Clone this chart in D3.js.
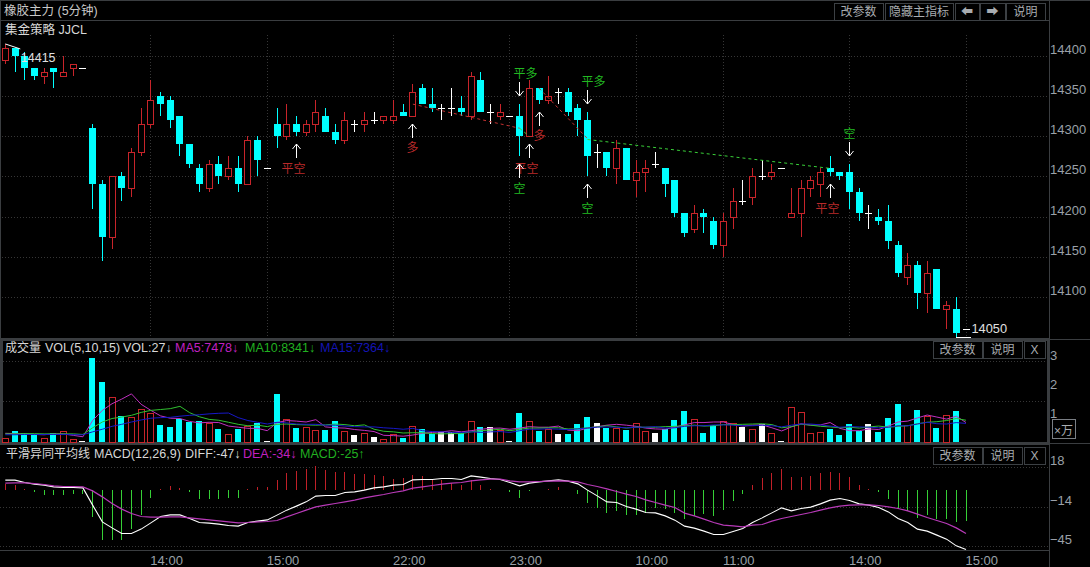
<!DOCTYPE html>
<html>
<head>
<meta charset="utf-8">
<script src="https://cdn.jsdelivr.net/npm/d3@7"></script>
<style>
  html, body { margin: 0; padding: 0; background: #000; overflow: hidden; }
  svg { display: block; }
  text { font-family: "Liberation Sans", "Noto Sans CJK SC", sans-serif; }
</style>
</head>
<body>
<svg id="chart" width="1090" height="567"></svg>
<script>
"use strict";

// candles, one per 5 minutes
let opens = [14395,14410,14400,14385,14375,14385,14375,14385,14385,14310,14240,14175,14250,14235,14280,14315,14350,14345,14325,14290,14260,14235,14265,14250,14260,14240,14295,14260,14315,14300,14315,14305,14315,14325,14305,14295,14315,14315,14320,14320,14320,14330,14325,14360,14340,14335,14335,14335,14325,14370,14330,14325,14325,14325,14300,14360,14345,14355,14355,14335,14320,14280,14280,14260,14285,14245,14255,14265,14260,14245,14205,14185,14205,14195,14165,14200,14220,14225,14250,14250,14260,14200,14205,14235,14240,14260,14255,14255,14230,14205,14200,14195,14165,14125,14140,14105,14135,14085,14085,14060];
let closes = [14410,14400,14385,14375,14380,14380,14380,14390,14385,14240,14175,14250,14235,14280,14315,14345,14340,14320,14290,14265,14240,14265,14250,14260,14240,14295,14270,14260,14300,14315,14305,14315,14330,14305,14295,14320,14315,14320,14320,14325,14325,14325,14355,14340,14335,14335,14335,14330,14375,14330,14330,14330,14325,14300,14360,14345,14350,14355,14330,14320,14275,14280,14260,14285,14245,14255,14260,14265,14240,14205,14180,14205,14200,14165,14195,14220,14220,14250,14250,14255,14260,14205,14235,14245,14255,14255,14250,14230,14205,14205,14195,14170,14130,14140,14105,14130,14085,14090,14055,14060];
let highs = [14415,14410,14405,14385,14385,14385,14400,14390,14385,14315,14245,14250,14255,14285,14335,14370,14355,14350,14325,14290,14265,14270,14275,14275,14275,14300,14300,14260,14335,14340,14325,14320,14345,14335,14315,14330,14320,14330,14330,14325,14345,14340,14365,14365,14360,14340,14360,14350,14380,14380,14340,14340,14325,14340,14370,14360,14375,14360,14360,14340,14330,14290,14280,14295,14285,14270,14270,14280,14260,14245,14205,14215,14210,14200,14205,14235,14245,14260,14270,14265,14260,14235,14245,14250,14260,14275,14255,14265,14235,14215,14210,14215,14170,14155,14145,14145,14135,14095,14100,14060];
let lows = [14390,14380,14370,14370,14365,14360,14375,14375,14385,14210,14145,14160,14220,14225,14275,14310,14325,14310,14275,14260,14230,14230,14240,14245,14230,14240,14250,14260,14285,14295,14300,14300,14305,14305,14290,14290,14305,14305,14315,14315,14315,14325,14325,14340,14330,14320,14325,14325,14320,14330,14315,14320,14325,14275,14300,14340,14340,14340,14325,14300,14250,14260,14250,14240,14245,14225,14230,14260,14225,14200,14175,14180,14180,14160,14150,14185,14215,14215,14245,14245,14260,14200,14175,14225,14225,14250,14245,14210,14195,14185,14190,14160,14125,14115,14085,14080,14085,14060,14050,14060];

// volume in units of 10000 lots
let volumes = [.15,.37,.32,.26,.15,.30,.37,.09,.03,2.90,2.07,1.54,.89,.86,1.15,1.01,.57,.51,.80,.69,.71,.67,.44,.26,.44,.54,.67,.03,1.64,.80,.47,.51,.40,.40,.71,.37,.23,.30,.16,.11,.26,.13,.54,.44,.29,.33,.33,.31,.71,.51,.51,.40,.03,.99,.71,.37,.44,.26,.26,.61,.85,.64,.48,.48,.40,.67,.37,.31,.44,.75,1.06,.78,.30,.57,.71,.64,.51,.44,.61,.30,.03,1.20,1.02,.32,.33,.44,.23,.61,.37,.61,.33,.82,1.30,.57,1.09,.89,.47,.92,1.06,.0027];
let ma5 = [.30,.29,.28,.26,.25,.28,.28,.23,.18,.74,1.09,1.32,1.48,1.66,1.30,1.09,.90,.82,.81,.71,.66,.68,.67,.55,.51,.47,.47,.39,.67,.74,.72,.69,.77,.52,.49,.48,.43,.40,.36,.23,.22,.20,.24,.30,.33,.35,.39,.35,.39,.44,.47,.48,.44,.48,.53,.51,.51,.55,.41,.39,.48,.53,.58,.61,.58,.54,.48,.45,.44,.51,.59,.67,.67,.69,.69,.60,.55,.58,.59,.49,.38,.52,.63,.58,.59,.67,.47,.39,.39,.45,.43,.55,.69,.72,.83,.93,.86,.79,.89,.67];
let ma10 = [.28,.28,.29,.29,.28,.28,.28,.28,.26,.49,.69,.81,.86,.92,1.02,1.09,1.12,1.15,1.23,1.01,.87,.78,.75,.68,.61,.56,.58,.53,.61,.62,.60,.59,.58,.59,.62,.60,.56,.59,.44,.37,.35,.31,.32,.32,.29,.28,.29,.29,.35,.39,.41,.44,.39,.44,.48,.48,.49,.49,.45,.46,.49,.52,.56,.52,.48,.51,.51,.51,.53,.54,.56,.58,.55,.56,.60,.60,.61,.62,.63,.60,.49,.53,.61,.58,.54,.52,.49,.51,.48,.52,.55,.51,.54,.56,.63,.68,.70,.74,.81,.75];
let ma15 = [.25,.25,.26,.26,.26,.26,.26,.25,.25,.35,.44,.54,.61,.69,.76,.82,.84,.85,.89,.92,.94,.97,.99,1.00,.84,.74,.68,.62,.68,.66,.62,.61,.61,.58,.58,.55,.53,.52,.52,.49,.47,.44,.47,.39,.36,.35,.33,.33,.35,.33,.35,.36,.33,.39,.44,.44,.46,.44,.43,.45,.48,.51,.52,.51,.49,.51,.51,.53,.48,.49,.54,.56,.56,.59,.59,.58,.56,.56,.58,.56,.52,.58,.62,.62,.59,.55,.51,.53,.52,.51,.49,.51,.56,.56,.62,.68,.63,.62,.67,.64];

// MACD
let macdHist = [4.8,3.5,.8,-2.1,-4,-4.5,-4.5,-3.5,-3.5,-22,-40.5,-40.5,-40.5,-31.5,-20,-6.7,.8,2.7,1.3,-1.9,-7.2,-7.2,-7.5,-6.4,-6.9,.5,2.1,2.1,7.5,13,14.7,16.8,19,16,13.9,13.9,12.8,12.3,11.5,11,8.8,9,11.5,10.7,8.8,7.5,5.6,3.5,7.5,3.5,.8,-.3,-2.1,-6.9,-1,-.5,.3,2.1,-.3,-3.7,-10.7,-14.7,-19,-17.3,-20.5,-20.5,-19,-14.7,-15.2,-19,-23.7,-21,-19.7,-21.3,-16.5,-9.3,-3.5,3.5,9,13,16.3,9.9,9.9,11,13,13.9,13,9.9,3.5,.5,-2.1,-7.5,-15.2,-17,-22.7,-20.5,-23.7,-23.7,-26,-25.3];
let diffLine = [7.5,7.5,5.6,4.3,3.5,2.1,1.6,1.6,1.3,-12.5,-25.9,-30.7,-35.2,-35.2,-31.7,-26.7,-21.6,-20.3,-20.3,-23.2,-26.4,-26.9,-27.7,-28.8,-29.3,-26.4,-25.3,-24.3,-20.5,-16.5,-13.3,-9.9,-5.3,-4.8,-4.8,-2.4,-1.9,-.5,1.3,2.1,3.5,4,7.7,8,8,8.8,8.8,8,10.9,9.9,8.8,8,5.6,2.9,5.1,6.1,6.9,7.7,6.7,4.5,-.5,-5.1,-9.9,-10.4,-13.6,-15.7,-18.4,-18.7,-21.1,-24.5,-29.3,-30.9,-33.3,-36,-36,-33.6,-31.2,-26.4,-22.7,-18.7,-14.7,-17.1,-15.2,-14.1,-11.5,-8.5,-7.2,-8.8,-11.5,-12.5,-14.4,-17.9,-23.2,-26.4,-31.7,-33.3,-36.5,-39.7,-45.1,-48];
let deaLine = [5.1,5.3,5.3,4.8,4,2.9,2.4,2.4,2.1,-1.1,-5.9,-11.2,-15.7,-19.2,-21.6,-22.1,-22.1,-21.9,-21.9,-22.7,-23.5,-24.3,-25.1,-25.9,-26.7,-26.4,-25.9,-25.6,-24.8,-21.9,-19.2,-16.5,-13.9,-12.5,-11.2,-9.9,-8.5,-6.7,-5.3,-4,-2.4,-1.1,1.1,2.1,3.2,4.3,5.1,5.6,6.9,7.7,8.3,8.3,6.9,6.1,6.1,6.4,6.7,6.9,6.7,6.1,4,2.4,.5,-1.6,-3.7,-5.6,-8.3,-10.4,-12.5,-14.4,-18.9,-21.1,-23.7,-26.4,-28.5,-29.1,-29.9,-28.5,-28,-25.3,-23.2,-21.6,-20,-18.4,-16.5,-14.7,-13.3,-12.5,-12.3,-12.3,-12.8,-13.9,-15.2,-17.1,-19.7,-22.4,-24.8,-27.2,-30.7,-35.2];

// axis ticks
let priceTicks = [14400, 14350, 14300, 14250, 14200, 14150, 14100];
let timeIndex = [15, 27, 40, 52, 65, 74, 87, 99];
let timeLabels = ["14:00", "15:00", "22:00", "23:00", "10:00", "11:00", "14:00", "15:00"];
let volTicks = [1, 2, 3];
let volGridValues = [1.40, 2.78];
let macdTicks = [18, -14, -45];

// trading signals
let signalIndex = [30, 42, 53, 54, 55, 60, 85, 53, 60, 87];
let signalDir = ["up", "up", "up", "up", "up", "up", "up", "down", "down", "down"];
let signalPrice = [14290, 14315, 14265, 14290, 14330, 14240, 14240, 14350, 14340, 14275];
let signalText = ["平空", "多", "空", "平空", "多", "空", "平空", "平多", "平多", "空"];

// signal connecting lines: from index, from price, to index, to price, long or short
let linkFrom = [42, 53, 55, 60];
let linkFromPrice = [14340, 14310, 14360, 14296];
let linkTo = [53, 54, 60, 85];
let linkToPrice = [14310, 14300, 14297, 14260];
let linkKind = ["red", "green", "red", "green"];

const CYAN = "#00ffff", RED = "#c8242a", WHITE = "#ffffff";
const SIG_RED = "#b82a2a", SIG_GREEN = "#22b822";
const AXIS_COLOR = "#9aa0a8", LINE_COLOR = "#3a3d40", GRID_COLOR = "#363636";

let svg = d3.select("#chart");
svg.append("rect").attr("width", 1090).attr("height", 567).attr("fill", "#000");

let n = opens.length;
let x = d3.scaleLinear().domain([0, 99]).range([5.3, 966]);
let px = function (i) { return Math.floor(x(i)); };
let priceY = d3.scaleLinear().domain([14050, 14400]).range([337, 56]);
let volY = d3.scaleLinear().domain([0, 3]).range([442, 355]);
let macdY = d3.scaleLinear().domain([-45, 18]).range([545.75, 467]);

let candleColor = function (i) {
    if (closes[i] > opens[i]) return RED;
    if (closes[i] < opens[i]) return CYAN;
    return WHITE;
};

// panel frame lines
let frame = svg.append("g").attr("shape-rendering", "crispEdges");
function hline(y, x0, x1, w) {
    frame.append("line").attr("x1", x0).attr("x2", x1).attr("y1", y).attr("y2", y)
        .attr("stroke", LINE_COLOR).attr("stroke-width", w || 1);
}
function vline(xp, y0, y1, w) {
    frame.append("line").attr("x1", xp).attr("x2", xp).attr("y1", y0).attr("y2", y1)
        .attr("stroke", LINE_COLOR).attr("stroke-width", w || 1);
}
hline(0.5, 0, 1090);
hline(20.5, 0, 1049);
hline(339.5, 0, 1049, 3);
hline(339, 1049, 1090);
hline(443.5, 0, 1049, 3);
hline(443, 1049, 1090);
hline(550.5, 0, 1049);
vline(1049.5, 0, 338);
vline(1048.5, 338, 445, 3);
vline(1049.5, 445, 567);
vline(1.5, 338, 445, 3);
vline(0.5, 0, 338);

// dotted grids
let grid = svg.append("g").attr("shape-rendering", "crispEdges")
    .attr("stroke", GRID_COLOR).attr("stroke-dasharray", "1,2");
grid.selectAll(".ph").data(priceTicks).enter().append("line")
    .attr("x1", 2).attr("x2", 1049)
    .attr("y1", function (d) { return Math.round(priceY(d)) + 0.5; })
    .attr("y2", function (d) { return Math.round(priceY(d)) + 0.5; });
grid.selectAll(".tv").data(timeIndex).enter().append("line")
    .attr("x1", function (d) { return px(d) + 0.5; })
    .attr("x2", function (d) { return px(d) + 0.5; })
    .attr("y1", 35).attr("y2", 338);
grid.selectAll(".vh").data(volGridValues).enter().append("line")
    .attr("x1", 3).attr("x2", 1047)
    .attr("y1", function (d) { return Math.round(volY(d)) + 0.5; })
    .attr("y2", function (d) { return Math.round(volY(d)) + 0.5; });
grid.selectAll(".mh").data(macdTicks).enter().append("line")
    .attr("x1", 0).attr("x2", 1049)
    .attr("y1", function (d) { return Math.round(macdY(d)) + 0.5; })
    .attr("y2", function (d) { return Math.round(macdY(d)) + 0.5; });

// axes
function styleAxis(g, dy) {
    g.select(".domain").remove();
    g.selectAll("line").remove();
    g.selectAll("text")
        .attr("y", dy)
        .attr("dy", "0.35em")
        .style("font-size", "13px")
        .style("font-family", "Liberation Sans, sans-serif")
        .attr("fill", AXIS_COLOR);
}
svg.append("g").attr("transform", "translate(1049,0)")
    .call(d3.axisRight(priceY).tickValues(priceTicks).tickSize(0).tickPadding(1).tickFormat(d3.format("d")))
    .call(styleAxis, -7);
svg.append("g").attr("transform", "translate(1049,0)")
    .call(d3.axisRight(volY).tickValues(volTicks).tickSize(0).tickPadding(1).tickFormat(d3.format("d")))
    .call(styleAxis, 0);
svg.append("g").attr("transform", "translate(1049,0)")
    .call(d3.axisRight(macdY).tickValues(macdTicks).tickSize(0).tickPadding(1).tickFormat(d3.format("d")))
    .call(styleAxis, -7);
svg.append("g").attr("transform", "translate(0,551)")
    .call(d3.axisBottom(x).tickValues(timeIndex).tickSize(0).tickFormat(function (d, i) { return timeLabels[i]; }))
    .call(function (g) {
        g.select(".domain").remove();
        g.selectAll("line").remove();
        g.selectAll("text")
            .attr("text-anchor", "start")
            .attr("x", -1)
            .attr("y", 9)
            .attr("dy", "0.35em")
            .style("font-size", "13px")
            .attr("fill", AXIS_COLOR);
    });

// candles
let indices = d3.range(n);
let candles = svg.append("g").attr("shape-rendering", "crispEdges");
candles.selectAll(".wick").data(indices).enter().append("line")
    .attr("x1", function (i) { return px(i) + 0.5; })
    .attr("x2", function (i) { return px(i) + 0.5; })
    .attr("y1", function (i) { return Math.round(priceY(highs[i])); })
    .attr("y2", function (i) { return Math.round(priceY(lows[i])); })
    .attr("stroke", candleColor);
candles.selectAll(".body").data(indices.filter(function (i) { return opens[i] !== closes[i]; }))
    .enter().append("rect")
    .attr("x", function (i) { return closes[i] > opens[i] ? px(i) - 2.5 : px(i) - 3; })
    .attr("width", function (i) { return closes[i] > opens[i] ? 6 : 7; })
    .attr("y", function (i) { return Math.round(priceY(Math.max(opens[i], closes[i]))) + (closes[i] > opens[i] ? 0.5 : 0); })
    .attr("height", function (i) {
        return Math.round(priceY(Math.min(opens[i], closes[i]))) - Math.round(priceY(Math.max(opens[i], closes[i])));
    })
    .attr("fill", function (i) { return closes[i] > opens[i] ? "#000" : CYAN; })
    .attr("stroke", function (i) { return closes[i] > opens[i] ? RED : "none"; });
candles.selectAll(".doji").data(indices.filter(function (i) { return opens[i] === closes[i]; }))
    .enter().append("line")
    .attr("x1", function (i) { return px(i) - 3; })
    .attr("x2", function (i) { return px(i) + 4; })
    .attr("y1", function (i) { return Math.round(priceY(closes[i])) + 0.5; })
    .attr("y2", function (i) { return Math.round(priceY(closes[i])) + 0.5; })
    .attr("stroke", WHITE);

// highest and lowest markers
let hiPrice = d3.max(highs), loPrice = d3.min(lows);
let hiIndex = highs.indexOf(hiPrice), loIndex = lows.indexOf(loPrice);
svg.append("line")
    .attr("x1", x(hiIndex)).attr("y1", priceY(hiPrice))
    .attr("x2", x(hiIndex) + 15).attr("y2", priceY(hiPrice) + 5)
    .attr("stroke", WHITE);
svg.append("text")
    .attr("x", x(hiIndex) + 15.5).attr("y", priceY(hiPrice) + 13.5).attr("dy", "0.35em")
    .attr("fill", "#e0e0e0").style("font-size", "12.5px")
    .text(hiPrice);
svg.append("line").attr("shape-rendering", "crispEdges")
    .attr("x1", px(loIndex)).attr("y1", Math.round(priceY(loPrice)) + 0.5)
    .attr("x2", px(loIndex) + 15).attr("y2", Math.round(priceY(loPrice)) + 0.5)
    .attr("stroke", WHITE);
svg.append("text")
    .attr("x", px(loIndex) + 15.5).attr("y", priceY(loPrice) - 8.5).attr("dy", "0.35em")
    .attr("fill", "#e0e0e0").style("font-size", "12.8px")
    .text(loPrice);

// signal connecting lines
let links = svg.append("g");
linkFrom.forEach(function (from, k) {
    links.append("line")
        .attr("x1", x(from)).attr("y1", priceY(linkFromPrice[k]))
        .attr("x2", x(linkTo[k])).attr("y2", priceY(linkToPrice[k]))
        .attr("stroke", linkKind[k] === "red" ? "#c43030" : "#39d039")
        .attr("stroke-dasharray", "3,3");
});

// signal labels, then arrows on top
let signals = d3.range(signalIndex.length);
let arrowLen = 14;
let labelShift = { "平空": -3, "平多": 6 };
let signalIsRed = function (k) {
    return signalDir[k] === "up" && signalText[k] !== "空";
};
svg.append("g").selectAll("text").data(signals).enter().append("text")
    .attr("x", function (k) { return px(signalIndex[k]) + 0.5 + (labelShift[signalText[k]] || 0); })
    .attr("y", function (k) {
        let tip = priceY(signalPrice[k]);
        return signalDir[k] === "up" ? tip + arrowLen + 10 : tip - arrowLen - 8.5;
    })
    .attr("dy", "0.35em")
    .attr("text-anchor", "middle")
    .attr("fill", function (k) { return signalIsRed(k) ? SIG_RED : SIG_GREEN; })
    .style("font-size", "12px")
    .text(function (k) { return signalText[k]; });
svg.append("g").selectAll("path").data(signals).enter().append("path")
    .attr("d", function (k) {
        let cx = px(signalIndex[k]) + 0.5;
        let tip = Math.round(priceY(signalPrice[k]));
        let dir = signalDir[k] === "up" ? 1 : -1;
        return "M" + cx + "," + tip + "V" + (tip + dir * arrowLen) +
            "M" + (cx - 4) + "," + (tip + dir * 5) + "L" + cx + "," + tip + "L" + (cx + 4) + "," + (tip + dir * 5);
    })
    .attr("fill", "none")
    .attr("stroke", WHITE);

// volume bars
let volBars = svg.append("g").attr("shape-rendering", "crispEdges");
volBars.selectAll("rect").data(indices).enter().append("rect")
    .attr("x", function (i) { return closes[i] > opens[i] ? px(i) - 2.5 : px(i) - 3; })
    .attr("width", 6)
    .attr("y", function (i) { return Math.round(volY(volumes[i])) + (closes[i] > opens[i] ? 0.5 : 0); })
    .attr("height", function (i) { return 442 - Math.round(volY(volumes[i])); })
    .attr("fill", function (i) { return closes[i] > opens[i] ? "#000" : candleColor(i); })
    .attr("stroke", function (i) { return closes[i] > opens[i] ? RED : "none"; });

// volume moving averages
let volLine = d3.line().x(function (d, i) { return x(i); }).y(function (d) { return volY(d); });
svg.append("path").datum(ma5).attr("d", volLine).attr("fill", "none").attr("stroke", "#c030c0");
svg.append("path").datum(ma10).attr("d", volLine).attr("fill", "none").attr("stroke", "#30c030");
svg.append("path").datum(ma15).attr("d", volLine).attr("fill", "none").attr("stroke", "#1818c8");

// MACD histogram and lines
let macdBars = svg.append("g").attr("shape-rendering", "crispEdges");
macdBars.selectAll("line").data(indices).enter().append("line")
    .attr("x1", function (i) { return px(i) + 0.5; })
    .attr("x2", function (i) { return px(i) + 0.5; })
    .attr("y1", macdY(0))
    .attr("y2", function (i) { return macdY(macdHist[i]); })
    .attr("stroke", function (i) { return macdHist[i] > 0 ? "#c02028" : "#36d036"; });
let macdLine = d3.line().x(function (d, i) { return x(i); }).y(function (d) { return macdY(d); });
svg.append("path").datum(diffLine).attr("d", macdLine).attr("fill", "none").attr("stroke", WHITE).attr("stroke-width", 1.1);
svg.append("path").datum(deaLine).attr("d", macdLine).attr("fill", "none").attr("stroke", "#b83ab8").attr("stroke-width", 1.2);

// header texts
function label(xp, yp, s, color, size) {
    svg.append("text")
        .attr("x", xp).attr("y", yp).attr("dy", "0.35em")
        .attr("fill", color).style("font-size", (size || 12.5) + "px")
        .text(s);
}
label(4, 11, "橡胶主力 (5分钟)", "#c8c8c8", 12.5);
label(5, 30, "集金策略 JJCL", "#d8d8d8", 12.5);
label(5, 348, "成交量", "#d8d8d8", 12);
label(45, 348, "VOL(5,10,15)", "#d8d8d8");
label(123, 348, "VOL:27↓", "#d8d8d8");
label(175, 348, "MA5:7478↓", "#c020c0");
label(245, 348, "MA10:8341↓", "#20b020");
label(320, 348, "MA15:7364↓", "#1414b4");
label(6, 454, "平滑异同平均线", "#d8d8d8", 12);
label(94, 454, "MACD(12,26,9)", "#d8d8d8");
label(185, 454, "DIFF:-47↓", "#d8d8d8");
label(243, 454, "DEA:-34↓", "#c020c0");
label(300, 454, "MACD:-25↑", "#20b020");

// buttons
function button(x0, x1, y0, y1, s, color, dy) {
    svg.append("rect").attr("shape-rendering", "crispEdges")
        .attr("x", x0 + 0.5).attr("y", y0 + 0.5).attr("width", x1 - x0).attr("height", y1 - y0)
        .attr("fill", "none").attr("stroke", color || "#3c4044");
    svg.append("text")
        .attr("x", (x0 + x1) / 2).attr("y", (y0 + y1) / 2 + 0.5 + (dy || 0)).attr("dy", "0.35em")
        .attr("text-anchor", "middle").attr("fill", "#a8acb0").style("font-size", "12px")
        .text(s);
}
button(834, 883, 3, 20, "改参数");
button(885, 953, 3, 20, "隐藏主指标");
button(955, 979, 3, 20, "⬅");
button(980, 1005, 3, 20, "➡");
button(1006, 1045, 3, 20, "说明");
button(933, 982, 341, 358, "改参数");
button(983, 1022, 341, 358, "说明");
button(1024, 1045, 341, 358, "X");
button(933, 982, 447, 464, "改参数");
button(983, 1022, 447, 464, "说明");
button(1024, 1045, 447, 464, "X");
button(1052, 1075, 419, 438, "×万", "#7a7e84", 1.5);
</script>
</body>
</html>
